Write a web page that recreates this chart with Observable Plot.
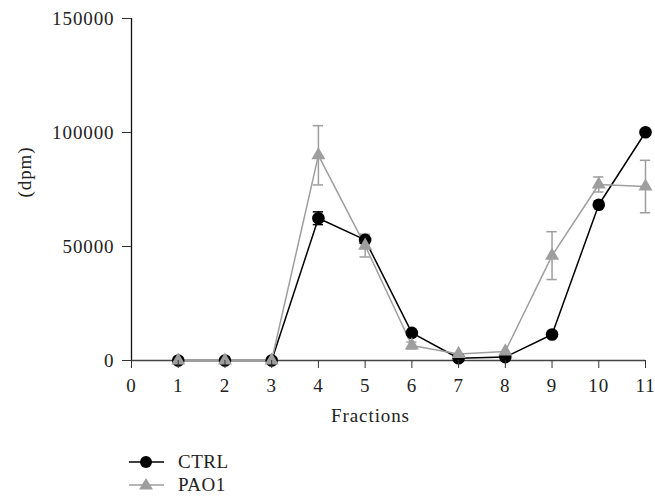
<!DOCTYPE html>
<html>
<head>
<meta charset="utf-8">
<script src="https://cdn.jsdelivr.net/npm/d3@7"></script>
<script src="https://cdn.jsdelivr.net/npm/@observablehq/plot@0.6"></script>
<style>
  body { margin: 0; background: #fff; font-family: "Liberation Serif", serif; }
  #chart svg, #chart svg text { font-family: "Liberation Serif", serif !important; letter-spacing: 0.9px; }
  #legend { margin-left: 128px; padding-top: 10px; font-size: 19px; letter-spacing: 0.5px; color: #222; }
  .row { display: flex; align-items: center; height: 23px; }
  .row svg { margin-right: 12px; }
</style>
</head>
<body>
<div id="chart"></div>
<div id="legend"></div>
<script>
const fractions = [1, 2, 3, 4, 5, 6, 7, 8, 9, 10, 11];
const ctrlMean = [0, 0, 0, 62400, 52900, 12100, 1000, 1500, 11400, 68300, 100100];
const ctrlErr  = [0, 0, 0, 2800, 1500, 0, 0, 0, 0, 0, 0];
const paoMean  = [0, 0, 0, 90000, 50400, 6600, 2900, 4000, 46000, 77200, 76300];
const paoErr   = [0, 0, 0, 13000, 5000, 1500, 0, 0, 10500, 3300, 11500];
const xTicks = [0, 1, 2, 3, 4, 5, 6, 7, 8, 9, 10, 11];
const yTicks = [0, 50000, 100000, 150000];

const GREY = "#9e9e9e";
const ctrl = fractions.map((f, i) => ({f, v: ctrlMean[i], e: ctrlErr[i]}));
const pao = fractions.map((f, i) => ({f, v: paoMean[i], e: paoErr[i]}));
const ctrlE = ctrl.filter(d => d.e > 0);
const paoE = pao.filter(d => d.e > 0);
const cap = 0.11;

const chart = Plot.plot({
  width: 655,
  height: 440,
  marginLeft: 131,
  marginRight: 10,
  marginTop: 18,
  marginBottom: 80,
  style: {fontFamily: "'Liberation Serif', serif", fontSize: "19px", color: "#222", background: "#fff"},
  x: {domain: [0, 11], label: null},
  y: {domain: [0, 150000], label: null},
  marks: [
    Plot.ruleX([0], {stroke: "#111", strokeWidth: 1.3}),
    Plot.ruleY([0], {stroke: "#444", strokeWidth: 1.5}),
    Plot.ruleX(paoE, {x: "f", y1: d => d.v - d.e, y2: d => d.v + d.e, stroke: GREY, strokeWidth: 1.5}),
    Plot.ruleY(paoE, {y: d => d.v + d.e, x1: d => d.f - cap, x2: d => d.f + cap, stroke: GREY, strokeWidth: 1.5}),
    Plot.ruleY(paoE, {y: d => d.v - d.e, x1: d => d.f - cap, x2: d => d.f + cap, stroke: GREY, strokeWidth: 1.5}),
    Plot.ruleX(ctrlE, {x: "f", y1: d => d.v - d.e, y2: d => d.v + d.e, stroke: "#000", strokeWidth: 1.5}),
    Plot.ruleY(ctrlE, {y: d => d.v + d.e, x1: d => d.f - cap, x2: d => d.f + cap, stroke: "#000", strokeWidth: 1.5}),
    Plot.ruleY(ctrlE, {y: d => d.v - d.e, x1: d => d.f - cap, x2: d => d.f + cap, stroke: "#000", strokeWidth: 1.5}),
    Plot.line(ctrl, {x: "f", y: "v", stroke: "#000", strokeWidth: 1.5}),
    Plot.line(pao, {x: "f", y: "v", stroke: GREY, strokeWidth: 1.5}),
    Plot.dot(ctrl, {x: "f", y: "v", r: 6.3, fill: "#000", stroke: "none"}),
    Plot.dot(pao, {x: "f", y: "v", r: 5.2, symbol: "triangle", fill: GREY, stroke: "none"}),
    Plot.axisX({ticks: xTicks, tickSize: 8, tickPadding: 10, label: null, tickFormat: d => String(d), stroke: "#333", fontSize: 19}),
    Plot.axisY({ticks: yTicks, tickSize: 9, tickPadding: 8, label: null, tickFormat: d => String(d), stroke: "#333", fontSize: 19}),
    Plot.text(["Fractions"], {frameAnchor: "bottom", dx: -18, dy: 61, fontSize: 19, fill: "#222"}),
    Plot.text(["(dpm)"], {frameAnchor: "left", dx: -107, dy: 8, rotate: -90, fontSize: 19, fill: "#222"})
  ]
});
document.getElementById("chart").appendChild(chart);

const legendItems = [
  {name: "CTRL", color: "#000", shape: "circle"},
  {name: "PAO1", color: GREY, shape: "triangle"}
];
const legend = document.getElementById("legend");
for (const it of legendItems) {
  const row = document.createElement("div");
  row.className = "row";
  const sym = it.shape === "circle"
    ? `<circle cx="18" cy="11" r="6" fill="${it.color}"/>`
    : `<path d="M18,4 L25,15.5 L11,15.5 Z" fill="${it.color}"/>`;
  row.innerHTML = `<svg width="38" height="22"><line x1="1" x2="36" y1="11" y2="11" stroke="${it.color}" stroke-width="1.5"/>${sym}</svg><span>${it.name}</span>`;
  legend.appendChild(row);
}
</script>
</body>
</html>
